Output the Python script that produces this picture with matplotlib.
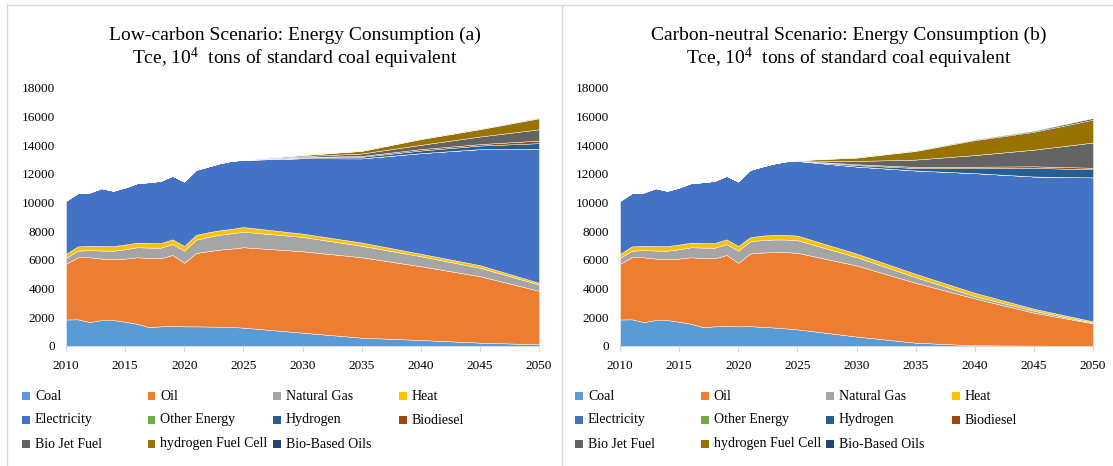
import numpy as np
import matplotlib
matplotlib.use('Agg')
import matplotlib.pyplot as plt
from matplotlib.patches import Rectangle
from matplotlib.lines import Line2D

plt.rcParams['font.family'] = ['Liberation Serif', 'DejaVu Serif']
plt.rcParams['mathtext.fontset'] = 'custom'
plt.rcParams['mathtext.rm'] = 'Liberation Serif'

# years: annual to 2025, then every five years
years = [2010, 2011, 2012, 2013, 2014, 2015, 2016, 2017, 2018, 2019, 2020,
         2021, 2022, 2023, 2024, 2025, 2030, 2035, 2040, 2045, 2050]

names = ['Coal', 'Oil', 'Natural Gas', 'Heat', 'Electricity', 'Other Energy',
         'Hydrogen', 'Biodiesel', 'Bio Jet Fuel', 'hydrogen Fuel Cell', 'Bio-Based Oils']
colors = ['#5B9BD5', '#ED7D31', '#A5A5A5', '#FFC000', '#4472C4', '#70AD47',
          '#255E91', '#9E480E', '#636363', '#997300', '#264478']

# history 2010-2020 is shared by both scenarios
coal_hist = [1850, 1860, 1670, 1810, 1810, 1690, 1550, 1320, 1370, 1410, 1370]
oil_hist = [3880, 4330, 4520, 4290, 4240, 4410, 4640, 4825, 4750, 4940, 4430]
gas_hist = [420, 460, 500, 560, 600, 650, 700, 720, 740, 760, 850]
heat_hist = [280, 300, 300, 320, 320, 330, 320, 330, 320, 330, 330]
elec_hist = [3700, 3720, 3720, 4030, 3860, 3980, 4150, 4235, 4340, 4430, 4500]
zero_hist = [0] * 11

# (a) low-carbon scenario, 2021-2050
coal_a = coal_hist + [1370, 1360, 1350, 1330, 1280, 930, 580, 420, 235, 120]
oil_a = oil_hist + [5120, 5250, 5375, 5465, 5610, 5680, 5610, 5145, 4635, 3730]
gas_a = gas_hist + [930, 990, 1040, 1070, 1080, 1000, 800, 700, 590, 440]
heat_a = heat_hist + [340, 330, 310, 310, 330, 230, 230, 170, 180, 120]
elec_a = elec_hist + [4530, 4590, 4675, 4745, 4680, 5260, 5870, 7020, 8095, 9340]
other_a = zero_hist + [0, 0, 0, 0, 0, 0, 0, 0, 0, 0]
hydrogen_a = zero_hist + [0, 0, 0, 0, 10, 50, 110, 180, 250, 400]
biodiesel_a = zero_hist + [0, 0, 0, 0, 5, 30, 60, 100, 100, 180]
biojet_a = zero_hist + [0, 0, 0, 0, 10, 60, 170, 300, 530, 790]
fuelcell_a = zero_hist + [0, 0, 0, 0, 10, 80, 180, 400, 510, 765]
biooil_a = zero_hist + [0, 0, 0, 0, 0, 10, 15, 20, 25, 30]

# (b) carbon-neutral scenario, 2021-2050
coal_b = coal_hist + [1380, 1340, 1290, 1230, 1160, 660, 230, 50, 30, 0]
oil_b = oil_hist + [5070, 5180, 5260, 5320, 5340, 4960, 4180, 3270, 2290, 1580]
gas_b = gas_hist + [850, 870, 880, 880, 880, 580, 390, 160, 140, 40]
heat_b = heat_hist + [290, 310, 320, 320, 320, 250, 235, 230, 140, 100]
elec_b = elec_hist + [4700, 4820, 4980, 5130, 5210, 6070, 7210, 8350, 9226, 10044]
other_b = zero_hist + [0, 0, 0, 0, 0, 0, 0, 0, 0, 0]
hydrogen_b = zero_hist + [0, 0, 0, 0, 10, 100, 170, 350, 600, 560]
biodiesel_b = zero_hist + [0, 0, 0, 0, 10, 60, 80, 100, 110, 110]
biojet_b = zero_hist + [0, 0, 0, 0, 20, 230, 510, 810, 1160, 1760]
fuelcell_b = zero_hist + [0, 0, 0, 0, 20, 230, 600, 1040, 1250, 1600]
biooil_b = zero_hist + [0, 0, 0, 0, 0, 20, 30, 40, 60, 100]

xticks = [2010, 2015, 2020, 2025, 2030, 2035, 2040, 2045, 2050]
yticks = [0, 2000, 4000, 6000, 8000, 10000, 12000, 14000, 16000, 18000]

W, H = 1113, 466
fig = plt.figure(figsize=(W / 100, H / 100), dpi=100)

# panel frame lines: top edge and the two left edges
frame = dict(transform=fig.transFigure, color='#D9D9D9', linewidth=1)
fig.lines.append(Line2D([7 / W, 1], [1 - 5 / H, 1 - 5 / H], **frame))
fig.lines.append(Line2D([7 / W, 7 / W], [0, 1 - 5 / H], **frame))
fig.lines.append(Line2D([562 / W, 562 / W], [0, 1 - 5 / H], **frame))


def draw_panel(ax_left, title, series, legend_x):
    ax = fig.add_axes([ax_left / W, (H - 346) / H, 473 / W, 258 / H])
    ax.stackplot(years, *series, colors=colors, edgecolor='white', linewidth=0.3)
    ax.set_xlim(2010, 2050)
    ax.set_ylim(0, 18000)
    ax.set_xticks(xticks)
    ax.set_yticks(yticks)
    for s in ['top', 'right', 'left']:
        ax.spines[s].set_visible(False)
    ax.spines['bottom'].set_color('#D9D9D9')
    ax.tick_params(axis='x', length=4, color='#D9D9D9', pad=6, labelsize=9.5)
    ax.tick_params(axis='y', length=0, pad=8, labelsize=9.5)
    ax.set_facecolor('none')

    cx = (ax_left + 473 / 2 - 8) / W
    fig.text(cx, 1 - 35 / H, title, ha='center', va='center', fontsize=14)
    fig.text(cx, 1 - 58 / H, r'Tce, $\mathrm{10^{4}}$  tons of standard coal equivalent',
             ha='center', va='center', fontsize=14)

    # legend, four equal columns
    rows = [396, 420, 444]
    for i in range(len(names)):
        x = legend_x + (i % 4) * 125.5
        y = rows[i // 4]
        fig.patches.append(Rectangle((x / W, 1 - (y + 4) / H), 8 / W, 8 / H,
                                     transform=fig.transFigure,
                                     facecolor=colors[i], edgecolor='none'))
        fig.text((x + 13) / W, 1 - y / H, names[i], ha='left', va='center', fontsize=10)


series_a = [coal_a, oil_a, gas_a, heat_a, elec_a, other_a,
            hydrogen_a, biodiesel_a, biojet_a, fuelcell_a, biooil_a]
series_b = [coal_b, oil_b, gas_b, heat_b, elec_b, other_b,
            hydrogen_b, biodiesel_b, biojet_b, fuelcell_b, biooil_b]

draw_panel(66, 'Low-carbon Scenario: Energy Consumption (a)', series_a, 22)
draw_panel(620, 'Carbon-neutral Scenario: Energy Consumption (b)', series_b, 575)

fig.savefig('out.png', dpi=100)
